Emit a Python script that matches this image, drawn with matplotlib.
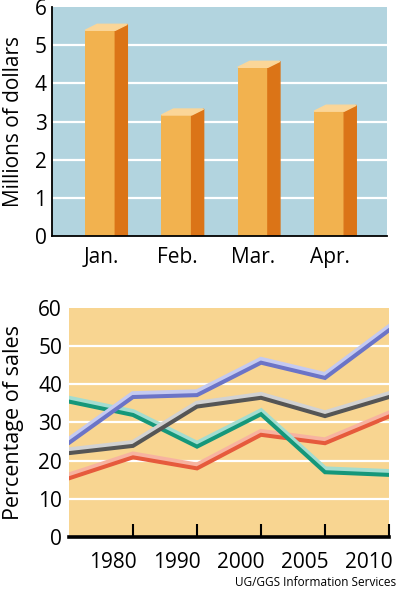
import numpy as np
import matplotlib.pyplot as plt
import matplotlib.patheffects as pe
from matplotlib.patches import Polygon

plt.rcParams['font.family'] = ['Open Sans', 'DejaVu Sans']

# top chart: monthly sales
months = ['Jan.', 'Feb.', 'Mar.', 'Apr.']
sales = [5.39, 3.17, 4.42, 3.27]

# bottom chart: share of sales
years = ['1980', '1990', '2000', '2005', '2010']
blue = [25, 37, 37.5, 46, 42, 54.5]
gray = [22.3, 24.2, 34.5, 36.8, 32, 37]
green = [35.8, 32.3, 24, 32.5, 17.3, 16.6]
red = [15.7, 21.2, 18.3, 27.1, 24.9, 31.9]

fig = plt.figure(figsize=(3.98, 5.89), dpi=100)

# ---- bar chart ----
ax1 = fig.add_axes([0.1307, 0.5993, 0.8417, 0.3888])
ax1.set_facecolor('#b2d4df')
ax1.set_xlim(-0.71, 3.68)
ax1.set_ylim(0, 6)
for v in range(1, 6):
    ax1.axhline(v, color='white', lw=1.6, zorder=1)

front_w = 0.395
side_w = 0.158
depth = 0.157
x = np.arange(len(months))
left = x - 0.276
ax1.bar(left, sales, width=front_w, align='edge', color='#f2b24f', zorder=3)
for l, h in zip(left, sales):
    r = l + front_w
    ax1.add_patch(Polygon([(r, 0), (r, h), (r + side_w, h + depth), (r + side_w, 0)],
                          closed=True, color='#db7417', zorder=3))
    ax1.add_patch(Polygon([(l, h), (r, h), (r + side_w, h + depth), (l + side_w, h + depth)],
                          closed=True, color='#fbd698', zorder=3))

ax1.set_xticks(x - 0.07)
ax1.set_xticklabels(months)
ax1.set_yticks(range(0, 7))
ax1.tick_params(length=0, labelsize=15)
ax1.tick_params(axis='x', pad=8)
ax1.tick_params(axis='y', pad=4)
ax1.set_ylabel('Millions of dollars', fontsize=15)
ax1.yaxis.set_label_coords(-0.084, 0.5)
for s in ['top', 'right']:
    ax1.spines[s].set_visible(False)
for s in ['left', 'bottom']:
    ax1.spines[s].set_linewidth(1.3)
    ax1.spines[s].set_zorder(5)

# ---- line chart ----
ax2 = fig.add_axes([0.1734, 0.0883, 0.804, 0.3888])
ax2.set_facecolor('#f8d591')
ax2.set_xlim(0, 5)
ax2.set_ylim(0, 60)
for v in range(10, 60, 10):
    ax2.axhline(v, color='white', lw=1.6, zorder=1)

pts = np.arange(len(blue))
series = [
    (red, '#f7b3a0', '#e65a3c'),
    (green, '#a3ddd0', '#15977a'),
    (gray, '#d2d2d2', '#555555'),
    (blue, '#c4caf1', '#6b74c7'),
]
for vals, light, dark in series:
    ax2.plot(pts, vals, color=dark, lw=0, zorder=3,
             path_effects=[pe.Stroke(offset=(0, 1.1), linewidth=4.4, foreground=light),
                           pe.Stroke(offset=(0, -0.9), linewidth=2.9, foreground=dark)],
             solid_joinstyle='miter')

ax2.set_xticks(range(1, 6))
ax2.set_xticklabels([])
ax2.tick_params(axis='x', which='major', direction='in', length=9.4, width=1.5, color='black')
ax2.set_xticks(np.arange(1, 6) - 0.31, minor=True)
ax2.set_xticklabels(years, minor=True)
ax2.tick_params(axis='x', which='minor', length=0, pad=11, labelsize=15)
ax2.set_yticks(range(0, 70, 10))
ax2.tick_params(axis='y', length=0, pad=5, labelsize=15)
ax2.set_ylabel('Percentage of sales', fontsize=15.5)
ax2.yaxis.set_label_coords(-0.142, 0.5)
for s in ['top', 'right', 'left']:
    ax2.spines[s].set_visible(False)
ax2.spines['bottom'].set_linewidth(2.6)
ax2.spines['bottom'].set_zorder(5)

fig.text(0.995, 0.0105, 'UG/GGS Information Services', ha='right', va='center', fontsize=8.5)

fig.savefig('out.png', dpi=100)
